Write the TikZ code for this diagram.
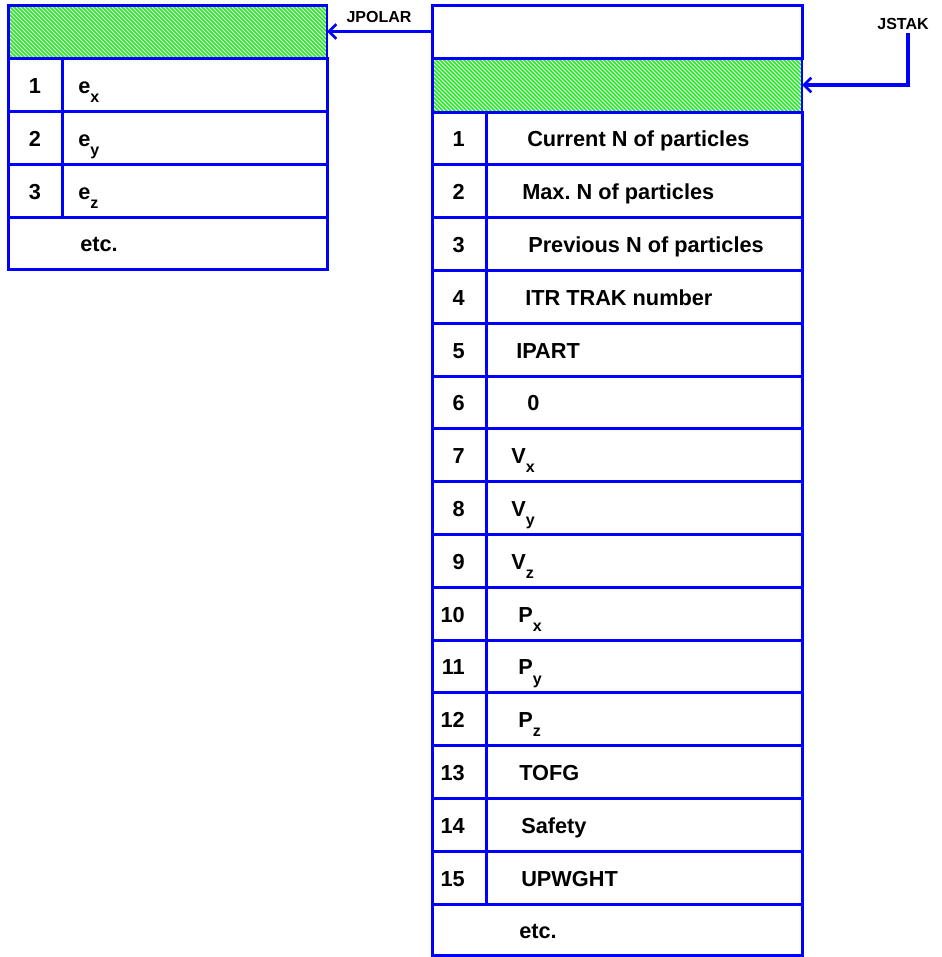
\documentclass[tikz,border=0pt]{standalone}
\usepackage{fontspec}
\setmainfont{Liberation Sans}
\usetikzlibrary{arrows.meta,fit}
\definecolor{lineblue}{RGB}{0,0,255}
\definecolor{hatchgreen}{RGB}{30,235,30}
\newcommand{\sbx}[1]{\raisebox{-0.8ex}{\fontsize{12}{12}\selectfont #1}}
\frenchspacing
\begin{document}
\begin{tikzpicture}[x=0.75pt,y=-0.75pt,
  cellbox/.style={draw=lineblue,line width=2.25pt,inner sep=0pt,outer sep=0pt},
  hatchbox/.style={draw=lineblue,line width=1.2pt,inner sep=0pt,outer sep=0pt},
  hatchline/.style={draw=hatchgreen,line width=1.3pt},
  lbl/.style={font=\fontsize{16.3}{19}\selectfont\bfseries,inner sep=0pt},
  ptr/.style={font=\fontsize{12}{14}\selectfont\bfseries,inner sep=0pt},
  conn/.style={draw=lineblue,line width=2.3pt,-{Straight Barb[length=5.5pt,width=11pt,line width=2pt]}}]
\useasboundingbox (0,0) rectangle (942,957);

% ---- hatching of the two header cells
\begin{scope}
  \clip (8,5) rectangle (327,58);
  \foreach \k in {-60,-56,...,330}{\draw[hatchline] (\k,5) -- ++(60,60);}
\end{scope}
\begin{scope}
  \clip (432,58) rectangle (802,112);
  \foreach \k in {370,374,...,810}{\draw[hatchline] (\k,58) -- ++(60,60);}
\end{scope}

% ---- left table (JPOLAR bank)
\node[hatchbox,fit={(8,5) (327,58)}] (lhatch) {};
\draw[lineblue,line width=2.25pt] (lhatch.north west) -- (lhatch.north east);
\draw[lineblue,line width=2.25pt] (lhatch.north west) -- (lhatch.south west);
\foreach \i/\t/\ya/\yb in {1/{e\sbx{x}}/58/111, 2/{e\sbx{y}}/111/164, 3/{e\sbx{z}}/164/217}{
  \node[cellbox,fit={(8,\ya) (62,\yb)}] (ln\i) {};
  \node[cellbox,fit={(62,\ya) (327,\yb)}] (lt\i) {};
  \node[lbl,anchor=base] (lnl\i) at (35,{(\ya+\yb)/2+8.5}) {\i};
  \node[lbl,anchor=base west] (ltl\i) at (78,{(\ya+\yb)/2+8.5}) {\t};
}
\node[cellbox,fit={(8,217) (327,269)}] (letc) {};
\node[lbl,anchor=base west] (letcl) at (80,251.5) {etc.};

% ---- right table (JSTAK bank)
\node[cellbox,fit={(432,5) (802,58)}] (rhead) {};
\node[hatchbox,fit={(432,58) (802,112)}] (rhatch) {};
\draw[lineblue,line width=2.25pt] (rhatch.north west) -- (rhatch.south west);
\foreach \i/\t/\tx in {1/{Current N of particles}/527, 2/{Max. N of particles}/522,
  3/{Previous N of particles}/528, 4/{ITR TRAK number}/525, 5/{IPART}/516, 6/{0}/527,
  7/{V\sbx{x}}/511, 8/{V\sbx{y}}/511, 9/{V\sbx{z}}/511, 10/{P\sbx{x}}/518,
  11/{P\sbx{y}}/518, 12/{P\sbx{z}}/518, 13/{TOFG}/519, 14/{Safety}/521, 15/{UPWGHT}/521}{
  \pgfmathsetmacro\ya{112+52.8*(\i-1)}
  \pgfmathsetmacro\yb{112+52.8*\i}
  \node[cellbox,fit={(432,\ya) (486,\yb)}] (rn\i) {};
  \node[cellbox,fit={(486,\ya) (802,\yb)}] (rt\i) {};
  \node[lbl,anchor=base east] (rnl\i) at (465,{(\ya+\yb)/2+8.5}) {\i};
  \node[lbl,anchor=base west] (rtl\i) at (\tx,{(\ya+\yb)/2+8.5}) {\t};
}
\node[cellbox,fit={(432,904) (802,955)}] (retc) {};
\node[lbl,anchor=base west] (retcl) at (519,938) {etc.};

% ---- pointers
\node[ptr] (jpolar) at (379,17) {JPOLAR};
\draw[conn] (rhead.west) -- (lhatch.east);
\node[ptr] (jstak) at (903,24) {JSTAK};
\coordinate (jtop) at (908,33);
\draw[conn] (jtop) |- (rhatch.east);
\end{tikzpicture}
\end{document}
